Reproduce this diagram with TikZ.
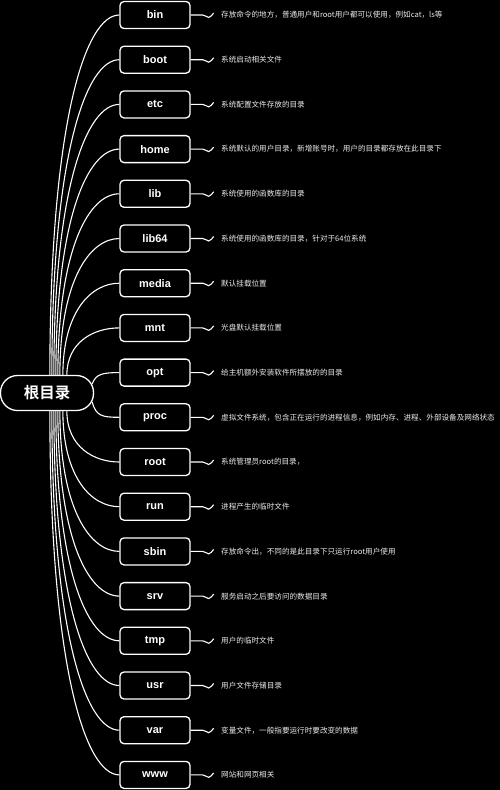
\documentclass[tikz,border=0pt]{standalone}
\usepackage{fontspec}
\setmainfont{Liberation Sans}
\newfontfamily\cjk{Noto Sans CJK SC}
\newfontfamily\cjkb{Noto Sans CJK SC Bold}
\usetikzlibrary{calc}
\tikzset{
  rootbox/.style={draw=white, line width=1.3pt, rounded corners=17pt, minimum width=93pt, minimum height=35pt, inner sep=0pt, text=white, font=\cjkb\fontsize{15.5}{18}\selectfont},
  childbox/.style={draw=white, line width=1.3pt, rounded corners=4pt, minimum width=70pt, minimum height=27pt, inner sep=0pt, text=white, font=\fontsize{11}{13}\selectfont\bfseries},
  desc/.style={anchor=west, inner sep=0pt, text=white!92!black, font=\cjk\fontsize{7.6}{9}\selectfont},
  link/.style={draw=white, line width=1.1pt},
}
\begin{document}
\begin{tikzpicture}[x=1pt,y=-1pt]
\fill[black] (0,0) rectangle (500,790);
\useasboundingbox (0,0) rectangle (500,790);
\node[rootbox] (root) at (47,393) {根目录};
\foreach \n/\xs/\d [count=\i from 0] in {
 bin/50/{存放命令的地方，普通用户和root用户都可以使用，例如cat，ls等},
 boot/52/{系统启动相关文件},
 etc/54/{系统配置文件存放的目录},
 home/56/{系统默认的用户目录，新增账号时，用户的目录都存放在此目录下},
 lib/58/{系统使用的函数库的目录},
 lib64/60/{系统使用的函数库的目录，针对于64位系统},
 media/63/{默认挂载位置},
 mnt/67/{光盘默认挂载位置},
 opt/0/{给主机额外安装软件所摆放的的目录},
 proc/0/{虚拟文件系统，包含正在运行的进程信息，例如内存、进程、外部设备及网络状态},
 root/67/{系统管理员root的目录，},
 run/63/{进程产生的临时文件},
 sbin/60/{存放命令出，不同的是此目录下只运行root用户使用},
 srv/58/{服务启动之后要访问的数据目录},
 tmp/56/{用户的临时文件},
 usr/54/{用户文件存储目录},
 var/52/{变量文件，一般指要运行时要改变的数据},
 www/50/{网站和网页相关}}{
  \pgfmathsetmacro\y{15+44.7*\i}
  \node[childbox] (c\i) at (155,\y) {\n};
  \node[desc] (d\i) at (221,\y) {\d};
  \draw[link] (c\i.east) -- ++(12,0) .. controls +(3,0) and +(-2,0) .. ++(6,2.5) .. controls +(2,0) and +(-1.5,1.5) .. ++(5,-4.5);
  \pgfmathsetmacro\cx{\xs+0.5*(120-\xs)}
  \ifnum\i<8
    \pgfmathsetmacro\cy{375.5-0.7*(375.5-\y)}
    \draw[link] ($(root.north west)+(\xs,0)$) .. controls (\xs,\cy) and (\cx,\y) .. (c\i.west);
  \fi
  \ifnum\i>9
    \pgfmathsetmacro\cy{410.5+0.7*(\y-410.5)}
    \draw[link] ($(root.south west)+(\xs,0)$) .. controls (\xs,\cy) and (\cx,\y) .. (c\i.west);
  \fi
}
\coordinate (ro) at ($(root.east)+(-2,-9)$);
\coordinate (rp) at ($(root.east)+(-2,9)$);
\draw[link] (ro) .. controls (96,374) and (102,372.6) .. (c8.west);
\draw[link] (rp) .. controls (96,416) and (102,417.3) .. (c9.west);
\end{tikzpicture}
\end{document}
